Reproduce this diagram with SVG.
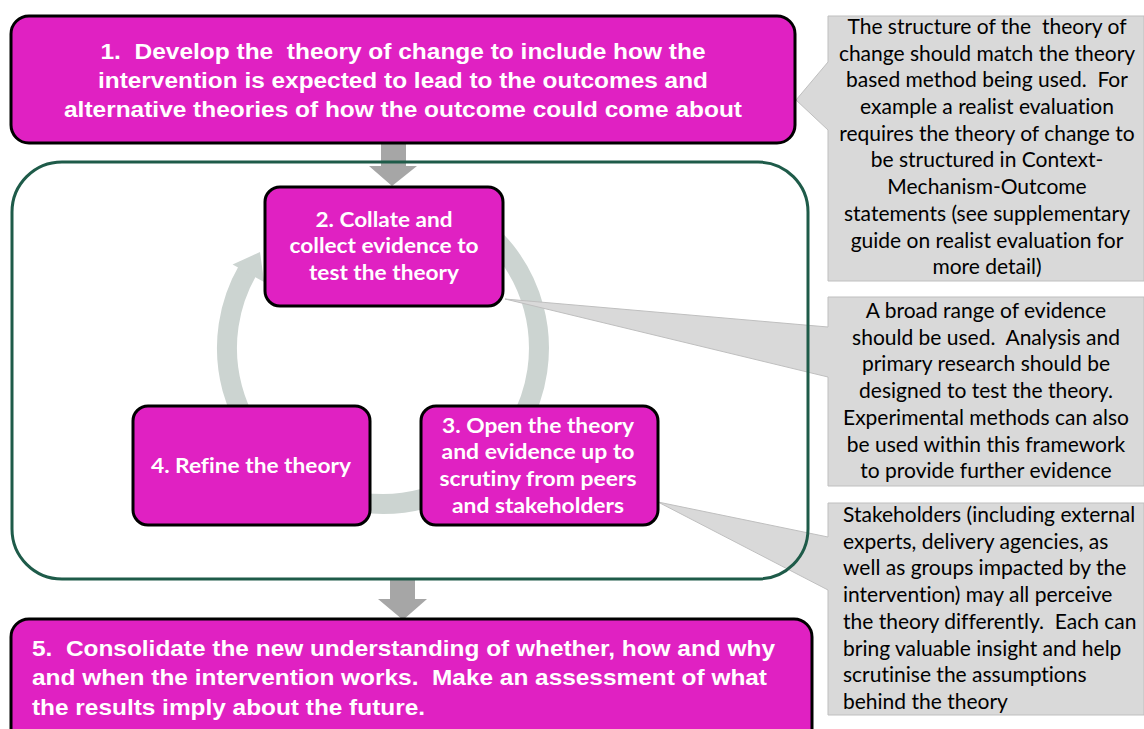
<svg xmlns="http://www.w3.org/2000/svg" width="1144" height="729" viewBox="0 0 1144 729">
<style>
.box{fill:#E021C2;stroke:#000;stroke-width:3}
.big{font-family:"Liberation Sans",Arial,sans-serif;font-weight:bold;font-size:22px;fill:#fff;white-space:pre}
.mid{font-family:Lato,"Liberation Sans",sans-serif;font-weight:bold;font-size:20px;fill:#fff;text-anchor:middle;font-variant-ligatures:none}
.call{fill:#D9D9D9;stroke:#BFBFBF;stroke-width:1}
.ct{font-family:Lato,"Liberation Sans",sans-serif;font-size:21px;fill:#000;white-space:pre;font-variant-ligatures:none}
.c{text-anchor:middle}
.garrow{fill:#A6A6A6}
</style>
<rect id="container-bg" x="12" y="162" width="796" height="417" rx="50" fill="#fff"/>
<g id="connectors">
  <path d="M 461 213 A 156 156 0 1 1 247.9 270" fill="none" stroke="#CCD4D1" stroke-width="20"/>
  <polygon points="232.6,264.6 260,252 264.1,282.1" fill="#CCD4D1"/>
  <polygon class="garrow" points="381,143 406,143 406,166 417,166 392,186 369,166 381,166"/>
  <polygon class="garrow" points="390,578 415,578 415,599 427,599 403,620 378,599 390,599"/>
</g>
<g id="callout1">
  <path class="call" d="M828,16 H1144 V281 H828 V130 L796,100 L828,62 Z"/>
  <text class="ct c" x="987" y="34">The structure of the  theory of</text>
  <text class="ct c" x="987" y="61">change should match the theory</text>
  <text class="ct c" x="987" y="87">based method being used.  For</text>
  <text class="ct c" x="987" y="114">example a realist evaluation</text>
  <text class="ct c" x="987" y="141">requires the theory of change to</text>
  <text class="ct c" x="987" y="167">be structured in Context-</text>
  <text class="ct c" x="987" y="194">Mechanism-Outcome</text>
  <text class="ct c" x="987" y="221">statements (see supplementary</text>
  <text class="ct c" x="987" y="248">guide on realist evaluation for</text>
  <text class="ct c" x="987" y="274">more detail)</text>
</g>
<g id="callout2">
  <path class="call" d="M828,297 H1144 V486 H828 V377 L505,299 L828,327 Z"/>
  <text class="ct c" x="986" y="318">A broad range of evidence</text>
  <text class="ct c" x="986" y="345">should be used.  Analysis and</text>
  <text class="ct c" x="986" y="371">primary research should be</text>
  <text class="ct c" x="986" y="398">designed to test the theory.</text>
  <text class="ct c" x="986" y="425">Experimental methods can also</text>
  <text class="ct c" x="986" y="452">be used within this framework</text>
  <text class="ct c" x="986" y="478">to provide further evidence</text>
</g>
<g id="callout3">
  <path class="call" d="M828,503 H1144 V715 H828 V590 L658,502 L828,537 Z"/>
  <text class="ct" x="843" y="522">Stakeholders (including external</text>
  <text class="ct" x="843" y="549">experts, delivery agencies, as</text>
  <text class="ct" x="843" y="575">well as groups impacted by the</text>
  <text class="ct" x="843" y="602">intervention) may all perceive</text>
  <text class="ct" x="843" y="629">the theory differently.  Each can</text>
  <text class="ct" x="843" y="656">bring valuable insight and help</text>
  <text class="ct" x="843" y="682">scrutinise the assumptions</text>
  <text class="ct" x="843" y="709">behind the theory</text>
</g>
<rect id="container" x="12" y="162" width="796" height="417" rx="50" fill="none" stroke="#1E5B49" stroke-width="3"/>
<g id="box1">
  <rect class="box" x="11" y="16" width="784" height="127" rx="18"/>
  <text class="big" x="403" y="59" text-anchor="middle" textLength="605" lengthAdjust="spacingAndGlyphs">1.  Develop the  theory of change to include how the</text>
  <text class="big" x="403" y="88" text-anchor="middle" textLength="610" lengthAdjust="spacingAndGlyphs">intervention is expected to lead to the outcomes and</text>
  <text class="big" x="403" y="117" text-anchor="middle" textLength="678" lengthAdjust="spacingAndGlyphs">alternative theories of how the outcome could come about</text>
</g>
<g id="box2">
  <rect class="box" x="265" y="187" width="238" height="119" rx="15"/>
  <text class="mid" x="384" y="227" textLength="137" lengthAdjust="spacingAndGlyphs">2. Collate and</text>
  <text class="mid" x="384" y="253" textLength="189" lengthAdjust="spacingAndGlyphs">collect evidence to</text>
  <text class="mid" x="384" y="280" textLength="150" lengthAdjust="spacingAndGlyphs">test the theory</text>
</g>
<g id="box4">
  <rect class="box" x="133" y="406" width="237" height="119" rx="15"/>
  <text class="mid" x="251" y="473" textLength="200" lengthAdjust="spacingAndGlyphs">4. Refine the theory</text>
</g>
<g id="box3">
  <rect class="box" x="421" y="406" width="237" height="119" rx="15"/>
  <text class="mid" x="538" y="433" textLength="192" lengthAdjust="spacingAndGlyphs">3. Open the theory</text>
  <text class="mid" x="538" y="459" textLength="193" lengthAdjust="spacingAndGlyphs">and evidence up to</text>
  <text class="mid" x="538" y="486" textLength="197" lengthAdjust="spacingAndGlyphs">scrutiny from peers</text>
  <text class="mid" x="538" y="513" textLength="172" lengthAdjust="spacingAndGlyphs">and stakeholders</text>
</g>
<g id="box5">
  <rect class="box" x="11" y="619" width="801" height="135" rx="18"/>
  <text class="big" x="32" y="656" textLength="743" lengthAdjust="spacingAndGlyphs">5.  Consolidate the new understanding of whether, how and why</text>
  <text class="big" x="32" y="685" textLength="735" lengthAdjust="spacingAndGlyphs">and when the intervention works.  Make an assessment of what</text>
  <text class="big" x="32" y="715" textLength="393" lengthAdjust="spacingAndGlyphs">the results imply about the future.</text>
</g>
</svg>
